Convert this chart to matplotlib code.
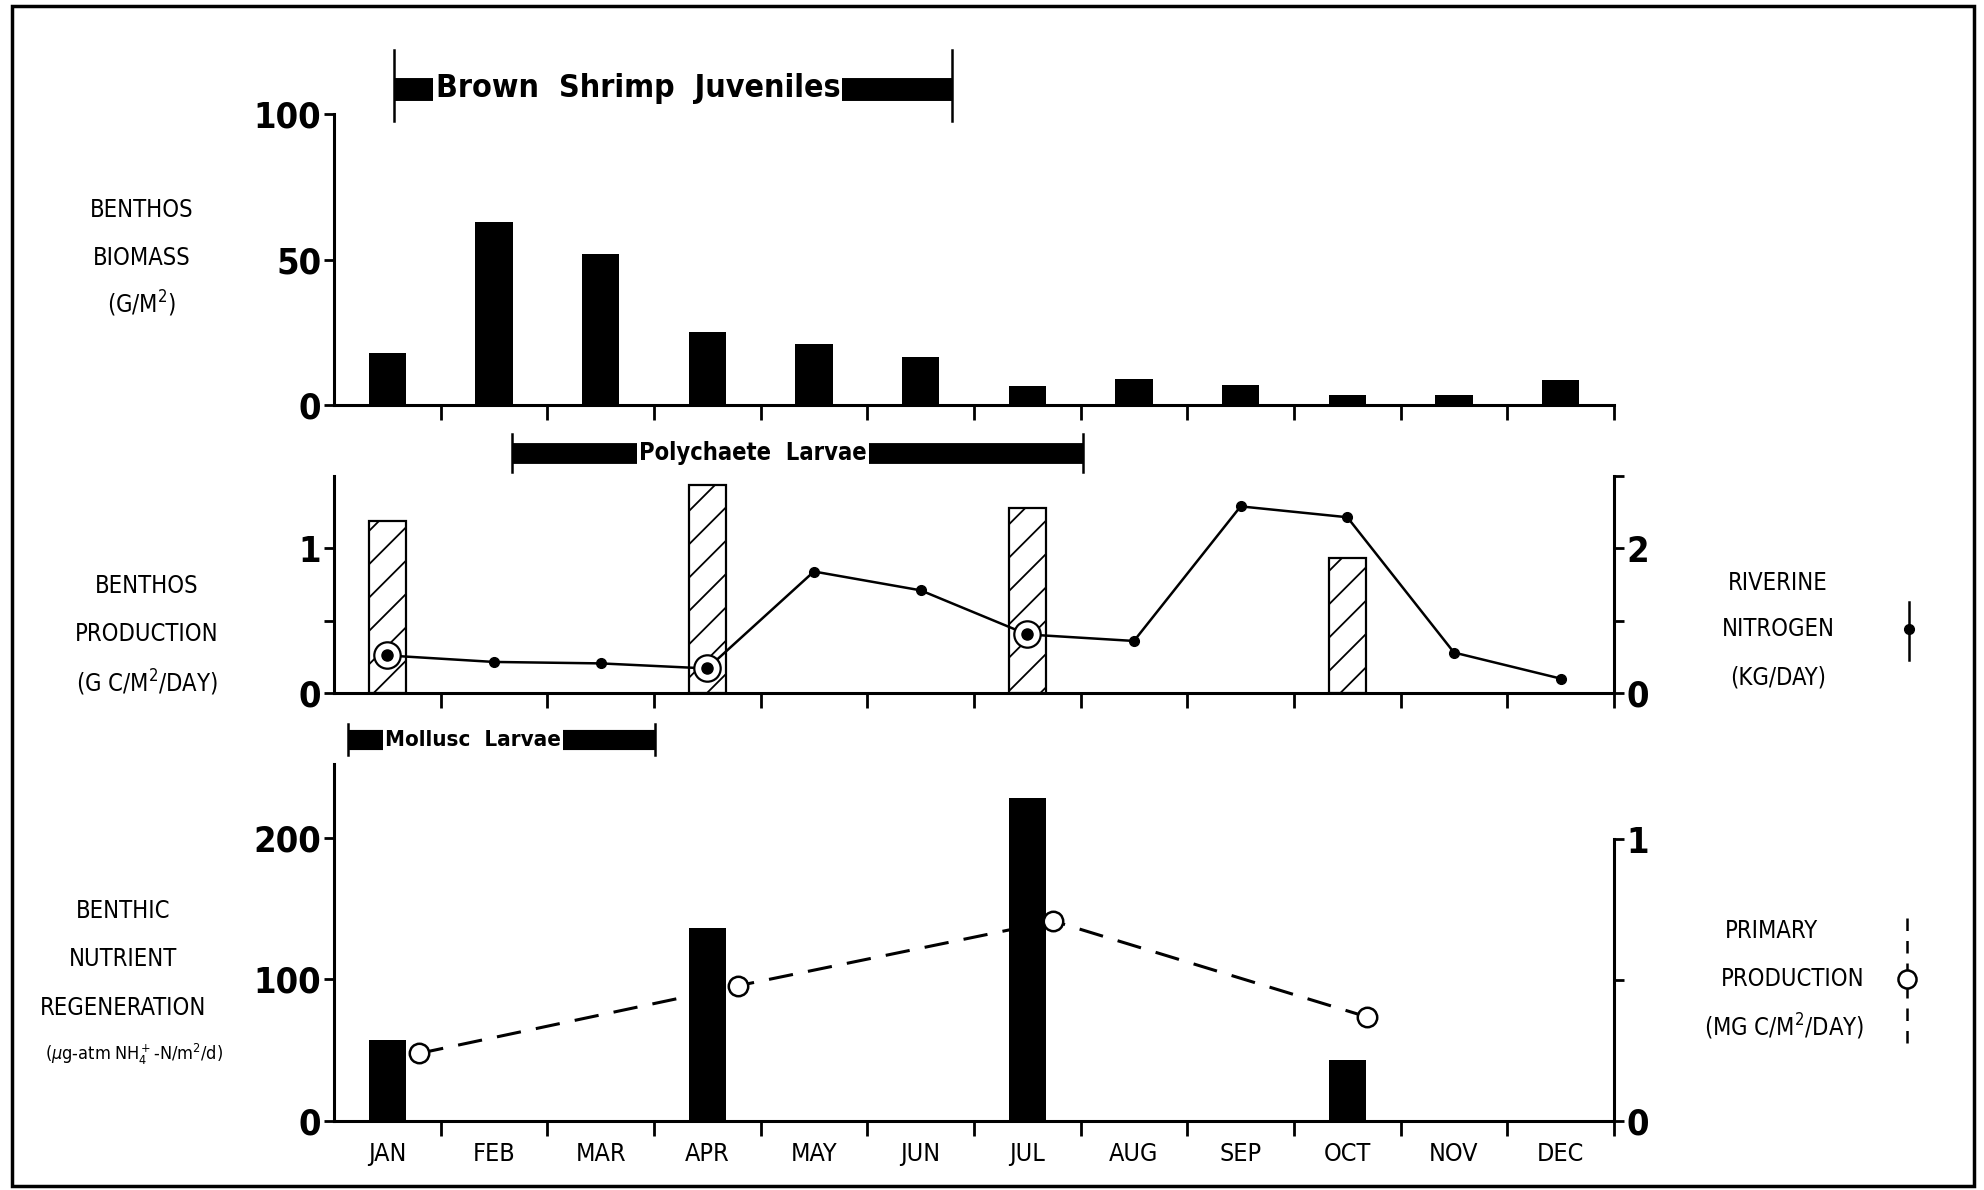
import matplotlib
matplotlib.use("Agg")
import matplotlib.pyplot as plt
import matplotlib.transforms as mtransforms
from matplotlib.lines import Line2D
from matplotlib.patches import Rectangle
import numpy as np

plt.rcParams['font.family'] = ['Liberation Sans Narrow', 'DejaVu Sans']
plt.rcParams['font.stretch'] = 'condensed'
plt.rcParams['hatch.linewidth'] = 1.3

months = ['JAN', 'FEB', 'MAR', 'APR', 'MAY', 'JUN', 'JUL', 'AUG', 'SEP', 'OCT', 'NOV', 'DEC']

# benthos biomass (g/m2), one bar per month
biomass = [18, 63, 52, 25, 21, 16.5, 6.5, 9, 7, 3.5, 3.5, 8.5]

# benthos production (g C/m2/day), hatched bars
prod_months = [0, 3, 6, 9]
production = [1.19, 1.44, 1.28, 0.93]

# riverine nitrogen (kg/day), right axis
nitrogen = [0.52, 0.43, 0.41, 0.34, 1.68, 1.42, 0.81, 0.72, 2.58, 2.43, 0.56, 0.2]
circled = [0, 3, 6]

# benthic nutrient regeneration (ug-atm NH4-N/m2/d)
regen_months = [0, 3, 6, 9]
regeneration = [57, 136, 228, 43]

# primary production (mg C/m2/day), right axis
pp_x = [0.3, 3.29, 6.24, 9.18]
primary = [0.24, 0.48, 0.71, 0.37]

# larval / juvenile periods (start, end, text centre) in month units
shrimp_span = (0.06, 5.29, 2.35)
poly_span = (1.17, 6.52, 3.43)
mollusc_span = (-0.37, 2.51, 0.80)

W, H = 1984, 1190
fig = plt.figure(figsize=(W / 100, H / 100), dpi=100)

def fx(px):
    return px / W

def fy(py):
    return 1 - py / H

left, width = 0.1683, 0.6452
ax1 = fig.add_axes([left, 0.6597, width, 0.2443])
ax2 = fig.add_axes([left, 0.4176, width, 0.1824])
ax3 = fig.add_axes([left, 0.058, width, 0.300])

lw_ax = 2.2
x = np.arange(12)
bw = 0.35

def style_axis(ax):
    ax.set_xlim(-0.5, 11.5)
    for s in ['top', 'right']:
        ax.spines[s].set_visible(False)
    for s in ['left', 'bottom']:
        ax.spines[s].set_linewidth(lw_ax)
    ax.set_xticks(np.arange(0.5, 11.6, 1))
    ax.set_xticklabels([])
    ax.tick_params(axis='x', which='major', direction='out', length=11, width=2)
    ax.tick_params(axis='y', direction='out', length=7, width=2, pad=2,
                   labelsize=26)
    for t in ax.get_yticklabels():
        t.set_fontweight('bold')

def style_right(axr):
    for s in ['top', 'left', 'bottom']:
        axr.spines[s].set_visible(False)
    axr.spines['right'].set_linewidth(lw_ax)
    axr.tick_params(axis='y', direction='out', length=7, width=2, pad=2,
                    labelsize=26)

# top panel: biomass
ax1.bar(x, biomass, width=bw, color='black')
ax1.set_ylim(0, 100)
ax1.set_yticks([0, 50, 100])
style_axis(ax1)

# middle panel: production + riverine nitrogen
ax2.bar(prod_months, production, width=bw, facecolor='white', edgecolor='black',
        hatch='/', linewidth=1.6, zorder=2)
ax2.set_ylim(0, 1.5)
ax2.set_yticks([0, 0.5, 1])
ax2.set_yticklabels(['0', '', '1'])
style_axis(ax2)
ax2r = ax2.twinx()
ax2r.set_ylim(0, 3)
ax2r.set_yticks([0, 1, 2, 3])
ax2r.set_yticklabels(['0', '', '2', ''])
ax2r.spines['right'].set_bounds(0, 3)
style_right(ax2r)
ax2r.plot(x, nitrogen, color='black', lw=1.8, marker='o', ms=7, zorder=3)
ax2r.plot([x[i] for i in circled], [nitrogen[i] for i in circled], ls='none',
          marker='o', ms=19, mfc='white', mec='black', mew=1.6, zorder=4)
ax2r.plot([x[i] for i in circled], [nitrogen[i] for i in circled], ls='none',
          marker='o', ms=8, color='black', zorder=5)
for t in ax2r.get_yticklabels():
    t.set_fontweight('bold')

# bottom panel: regeneration + primary production
ax3.bar(regen_months, regeneration, width=bw, color='black')
ax3.set_ylim(0, 252)
ax3.set_yticks([0, 100, 200])
style_axis(ax3)
ax3.set_xticks(x, minor=True)
ax3.set_xticklabels(months, minor=True, fontsize=18)
ax3.tick_params(axis='x', which='minor', length=0, pad=15)
ax3r = ax3.twinx()
ax3r.set_ylim(0, 1.267)
ax3r.set_yticks([0, 0.5, 1])
ax3r.set_yticklabels(['0', '', '1'])
ax3r.spines['right'].set_bounds(0, 1)
style_right(ax3r)
for t in ax3r.get_yticklabels():
    t.set_fontweight('bold')
ax3r.plot(pp_x, primary, color='black', lw=2.2, dashes=(8, 5),
          marker='o', ms=14, mfc='white', mec='black', mew=1.8)

# period brackets above panels
def bracket(ax, span, label, y, y0, y1, thick, size):
    tr = mtransforms.blended_transform_factory(ax.transData, fig.transFigure)
    s, e, c = span
    ax.add_line(Line2D([s, e], [y, y], transform=tr, color='black',
                       lw=thick, solid_capstyle='butt', clip_on=False))
    for xx in (s, e):
        ax.add_line(Line2D([xx, xx], [y0, y1], transform=tr, color='black',
                           lw=1.8, clip_on=False))
    ax.text(c, y, label, transform=tr, ha='center', va='center',
            fontsize=size, fontweight='bold', clip_on=False,
            bbox=dict(facecolor='white', edgecolor='none', pad=1.5))

bracket(ax1, shrimp_span, 'Brown  Shrimp  Juveniles', fy(89), fy(50), fy(121), 16.5, 23)
bracket(ax2, poly_span, 'Polychaete  Larvae', fy(453), fy(434), fy(472), 15, 17)
bracket(ax3, mollusc_span, 'Mollusc  Larvae', fy(740), fy(724), fy(755), 14.5, 16)

# axis titles
lab = dict(ha='center', va='center', fontsize=17)
for txt, py in [('BENTHOS', 210), ('BIOMASS', 258), ('(G/M$^2$)', 304)]:
    fig.text(fx(142), fy(py), txt, **lab)
for txt, py in [('BENTHOS', 586), ('PRODUCTION', 634), ('(G C/M$^2$/DAY)', 683)]:
    fig.text(fx(147), fy(py), txt, **lab)
for txt, py in [('BENTHIC', 911), ('NUTRIENT', 959), ('REGENERATION', 1008)]:
    fig.text(fx(123), fy(py), txt, **lab)
fig.text(fx(134), fy(1054), r'($\mu$g-atm NH$_4^+$-N/m$^2$/d)', ha='center',
         va='center', fontsize=13)

for txt, py in [('RIVERINE', 583), ('NITROGEN', 629), ('(KG/DAY)', 678)]:
    fig.text(fx(1778), fy(py), txt, **lab)
for txt, px, py in [('PRIMARY', 1771, 931), ('PRODUCTION', 1793, 979),
                    ('(MG C/M$^2$/DAY)', 1784, 1027)]:
    fig.text(fx(px), fy(py), txt, **lab)

# legend keys at right
fig.add_artist(Line2D([fx(1909), fx(1909)], [fy(602), fy(660)], color='black', lw=1.8))
fig.add_artist(Line2D([fx(1909)], [fy(629)], marker='o', ms=7, color='black'))
fig.add_artist(Line2D([fx(1907), fx(1907)], [fy(918), fy(1046)], color='black',
                      lw=1.8, dashes=(5, 4)))
fig.add_artist(Line2D([fx(1907)], [fy(979)], marker='o', ms=13, mfc='white',
                      mec='black', mew=1.8))

# page frame
fig.add_artist(Rectangle((0.006, 0.0034), 0.989, 0.9916, transform=fig.transFigure,
                         fill=False, edgecolor='black', lw=2.5))

fig.savefig('out.png', dpi=100)
